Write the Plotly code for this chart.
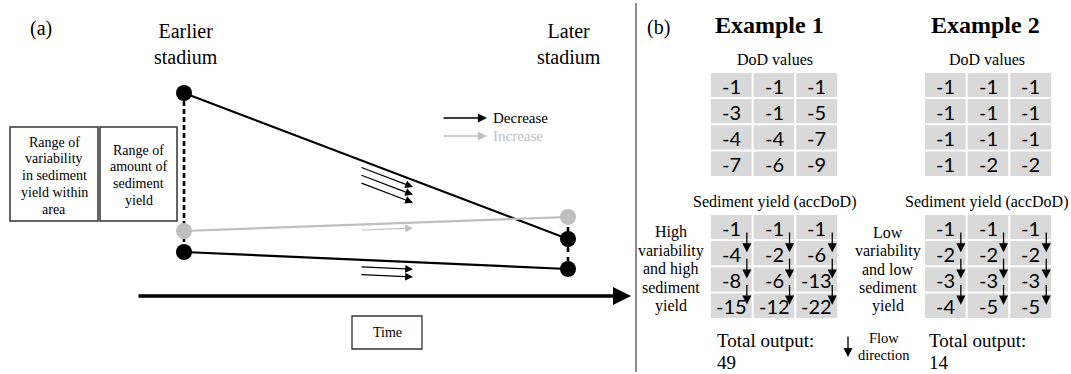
import plotly.graph_objects as go

# ---------------- data ----------------
stage_labels = ["Earlier<br>stadium", "Later<br>stadium"]
upper_line = [93, 239]     # upper black line (earlier -> later)
gray_line = [231, 217]     # grey (increase) line
lower_line = [252, 269]    # lower black line

dod_ex1 = [[-1, -1, -1], [-3, -1, -5], [-4, -4, -7], [-7, -6, -9]]
acc_ex1 = [[-1, -1, -1], [-4, -2, -6], [-8, -6, -13], [-15, -12, -22]]
dod_ex2 = [[-1, -1, -1], [-1, -1, -1], [-1, -1, -1], [-1, -2, -2]]
acc_ex2 = [[-1, -1, -1], [-2, -2, -2], [-3, -3, -3], [-4, -5, -5]]
totals = [49, 14]
example_titles = ["Example 1", "Example 2"]
side_labels = [["High", "variability", "and high", "sediment", "yield"],
               ["Low", "variability", "and low", "sediment", "yield"]]
box_labels = [["Range of", "variability", "in sediment", "yield within", "area"],
              ["Range of", "amount of", "sediment", "yield"]]
legend_labels = ["Decrease", "Increase"]

# ---------------- style / layout constants ----------------
W, H = 1071, 374
SERIF = "Liberation Serif"
SANS = "Lato"
BLACK = "#000000"
GRAY = "#bfbfbf"
CELL = "#d9d9d9"
X_EARLY, X_LATE = 184, 568

fig = go.Figure()
shapes = []
ann = []


def text(x, y, s, size, color=BLACK, family=SERIF, xanchor="center"):
    ann.append(dict(x=x, y=y, text=s, showarrow=False, xanchor=xanchor, yanchor="middle",
                    font=dict(family=family, size=size, color=color)))


def arrow(x0, y0, x1, y1, width=1.2, color=BLACK, size=1.4, head=2):
    ann.append(dict(x=x1, y=y1, ax=x0, ay=y0, xref="x", yref="y", axref="x", ayref="y",
                    text="", showarrow=True, arrowhead=head, arrowsize=size,
                    arrowwidth=width, arrowcolor=color, standoff=0, startstandoff=0))


def lines_block(xc, y0, dy, lines, size):
    for i, s in enumerate(lines):
        text(xc, y0 + i * dy, s, size)


# ---------------- panel (a) ----------------
# dashed verticals (range of sediment yield)
shapes.append(dict(type="line", x0=X_EARLY, x1=X_EARLY, y0=upper_line[0], y1=lower_line[0],
                   line=dict(color=BLACK, width=2.6, dash="5px,3px"), layer="below"))
shapes.append(dict(type="line", x0=X_LATE, x1=X_LATE, y0=gray_line[1], y1=lower_line[1],
                   line=dict(color=BLACK, width=2.6, dash="5px,5px"), layer="below"))

for vals, col in [(upper_line, BLACK), (lower_line, BLACK), (gray_line, GRAY)]:
    fig.add_trace(go.Scatter(x=[X_EARLY, X_LATE], y=vals, mode="lines+markers",
                             line=dict(color=col, width=2.2),
                             marker=dict(color=col, size=16, line=dict(width=0)),
                             hoverinfo="skip", showlegend=False))

# direction arrows parallel to the lines
def line_arrows(vals, n, offset, color):
    slope = (vals[1] - vals[0]) / (X_LATE - X_EARLY)
    xa, xb = 360, 413
    for k in range(n):
        ya = vals[0] + slope * (xa - X_EARLY) + offset + k * 7.8
        arrow(xa, ya, xb, ya + slope * (xb - xa), width=1.2, color=color, size=1.3)

line_arrows(upper_line, 3, 7, BLACK)
line_arrows(gray_line, 1, 5.5, GRAY)
line_arrows(lower_line, 2, 7, BLACK)

# stage titles
text(186, 44, stage_labels[0], 20)
text(569, 44, stage_labels[1], 20)
text(41, 28, "(a)", 20)

# legend
arrow(442, 118, 487, 118, width=1.4, color=BLACK, size=1.3)
text(491, 118, legend_labels[0], 15, BLACK, xanchor="left")
arrow(442, 136, 487, 136, width=1.4, color=GRAY, size=1.3)
text(491, 136, legend_labels[1], 15, GRAY, xanchor="left")

# boxes
for (x0, x1), lines, y0 in [((10, 98), box_labels[0], 142), ((100, 177), box_labels[1], 150)]:
    shapes.append(dict(type="rect", x0=x0, x1=x1, y0=127, y1=221,
                       line=dict(color="#333333", width=1.5)))
    lines_block((x0 + x1) / 2, y0, 16.8, lines, 14)

# time axis
arrow(137, 296, 631, 296, width=3.6, color=BLACK, size=1.0, head=2)
shapes.append(dict(type="rect", x0=352, x1=422, y0=316, y1=349,
                   line=dict(color="#333333", width=1.3)))
text(387, 332, "Time", 14)

# divider
shapes.append(dict(type="line", x0=636, x1=636, y0=3, y1=372,
                   line=dict(color="#444444", width=1.2)))

# ---------------- panel (b) ----------------
text(658, 27, "(b)", 20)

CW, CH = 42.7, 26.2


def draw_grid(vals, left, top, flow=False):
    for r, row in enumerate(vals):
        for c, v in enumerate(row):
            shapes.append(dict(type="rect", x0=left + c * CW, x1=left + (c + 1) * CW,
                               y0=top + r * CH, y1=top + (r + 1) * CH,
                               fillcolor=CELL, line=dict(color="white", width=1.8),
                               layer="below"))
            text(left + (c + 0.5) * CW, top + (r + 0.5) * CH + 0.5, str(v), 20, BLACK, SANS)
    if flow:
        for c in range(len(vals[0])):
            xa = left + (c + 0.5) * CW + 15.5
            for r in range(len(vals) - 1):
                arrow(xa, top + (r + 0.5) * CH + 4, xa, top + (r + 1.5) * CH - 1,
                      width=1.3, color=BLACK, size=1.4)


examples = [
    dict(dod=dod_ex1, acc=acc_ex1, left=710, title_x=769, label_x=774.5, side_x=671, tot_x=715),
    dict(dod=dod_ex2, acc=acc_ex2, left=924, title_x=985.5, label_x=987, side_x=888, tot_x=927),
]
for i, ex in enumerate(examples):
    text(ex["title_x"], 25, "<b>" + example_titles[i] + "</b>", 24)
    text(ex["label_x"], 59, "DoD values", 16)
    draw_grid(ex["dod"], ex["left"], 72)
    text(ex["label_x"], 202, "Sediment yield (accDoD)", 16)
    draw_grid(ex["acc"], ex["left"], 214, flow=True)
    lines_block(ex["side_x"], 232, 18.6, side_labels[i], 16)
    text(ex["tot_x"], 340, "Total output:", 19, xanchor="left")
    text(ex["tot_x"], 362, str(totals[i]), 19, xanchor="left")

# flow direction legend
arrow(848, 335, 848, 357, width=1.3, color=BLACK, size=1.4)
text(884, 338, "Flow", 14.5)
text(884, 355, "direction", 14.5)

fig.update_layout(
    width=W, height=H, margin=dict(l=0, r=0, t=0, b=0),
    paper_bgcolor="white", plot_bgcolor="white",
    xaxis=dict(range=[0, W], visible=False, fixedrange=True),
    yaxis=dict(range=[H, 0], visible=False, fixedrange=True),
    shapes=shapes, annotations=ann, showlegend=False,
)
fig.write_html("out.html")
